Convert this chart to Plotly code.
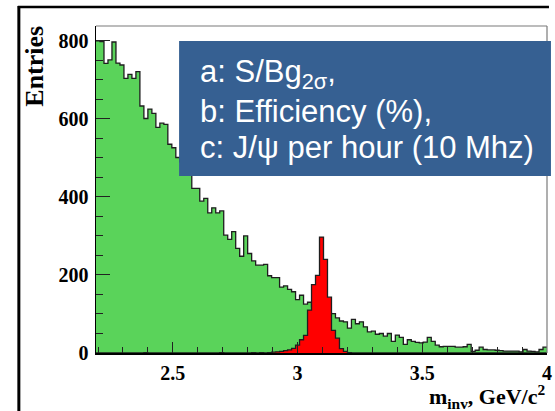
import numpy as np
import plotly.graph_objects as go

# ---------------- data ----------------
bin_lo = 2.192
bin_width = 0.016

background = [800, 798, 742, 751, 797, 743, 738, 704, 714, 704,
              721, 633, 601, 625, 614, 578, 589, 586, 535, 526,
              501, 490, 472, 460, 422, 422, 389, 396, 359, 372,
              359, 364, 302, 291, 311, 268, 248, 300, 255, 236,
              225, 225, 227, 198, 193, 193, 169, 172, 163, 157,
              137, 148, 125, 130, 118, 112, 108, 105, 102, 101,
              90, 82, 80, 64, 86, 75, 80, 67, 54, 56,
              48, 50, 43, 50, 30, 46, 40, 22, 34, 30,
              27, 26, 28, 40, 30, 20, 16, 17, 17, 17,
              15, 15, 16, 22, 4, 7, 15, 9, 8, 8,
              7, 6, 5, 5, 5, 5, 3, 9, 5, 4,
              3, 9, 15]

signal = [0, 0, 0, 0, 0, 0, 0, 0, 0, 0,
          0, 0, 1, 0, 0, 0, 0, 0, 0, 0,
          0, 0, 0, 0, 0, 0, 0, 0, 0, 0,
          0, 1, 0, 0, 0, 0, 0, 0, 0, 1,
          0, 1, 0, 1, 2, 3, 4, 6, 8, 12,
          20, 34, 45, 110, 175, 199, 297, 240, 143, 58,
          38, 11, 4, 1, 0, 0, 0, 0, 0, 0,
          0, 0, 0, 0, 0, 0, 0, 0, 0, 0,
          0, 0, 0, 0, 0, 0, 0, 0, 0, 0,
          0, 0, 0, 0, 0, 0, 0, 0, 0, 0,
          0, 0, 0, 0, 0, 0, 0, 0, 0, 0,
          0, 0, 0]

x_tickvals = [2.5, 3.0, 3.5, 4.0]
x_ticktext = ["2.5", "3", "3.5", "4"]
y_tickvals = [0, 200, 400, 600, 800]
y_ticktext = ["0", "200", "400", "600", "800"]

box_lines = ["a: S/Bg<sub>2σ</sub>,", "b: Efficiency (%),", "c: J/ψ per hour (10 Mhz)"]
y_title = "Entries"
x_title = "m<sub>inv</sub>, GeV/c<sup>2</sup>"

# ---------------- geometry ----------------
W_FIG, H_FIG = 555, 411
ML, MR, MT, MB = 96, 3, 26, 58
PW = W_FIG - ML - MR
PH = H_FIG - MT - MB


def px(x):
    return (x - ML) / PW


def py(y):
    return (H_FIG - MB - y) / PH


n = len(background)
edges = bin_lo + bin_width * np.arange(n + 1)


def step_xy(vals):
    xs = list(edges)
    ys = list(vals) + [vals[-1]]
    return xs, ys


GREEN = "#5AD35A"
RED = "#FF0000"
OUT = "#1e1e1e"

fig = go.Figure()
gx, gy = step_xy(background)
fig.add_trace(go.Scatter(x=gx, y=gy, mode="lines", line=dict(shape="hv", color=OUT, width=1.3),
                         fill="tozeroy", fillcolor=GREEN, hoverinfo="skip"))
rx, ry = step_xy(signal)
fig.add_trace(go.Scatter(x=rx, y=ry, mode="lines", line=dict(shape="hv", color=OUT, width=1.3),
                         fill="tozeroy", fillcolor=RED, hoverinfo="skip"))

tickfont = dict(family="Liberation Serif", size=20, color="black", weight="bold")

fig.update_layout(
    width=W_FIG, height=H_FIG,
    margin=dict(l=ML, r=MR, t=MT, b=MB, pad=0),
    paper_bgcolor="white", plot_bgcolor="white",
    showlegend=False,
    xaxis=dict(range=[edges[0], edges[-1]], showgrid=False, zeroline=False,
               showline=True, linecolor="black", linewidth=1.5,
               ticks="inside", ticklen=11, tickwidth=1, tickcolor="#222",
               tickmode="array", tickvals=x_tickvals, ticktext=x_ticktext,
               minor=dict(ticks="inside", ticklen=6, dtick=0.1, tick0=0, tickcolor="#222", tickwidth=1),
               tickfont=tickfont, ticklabeloverflow="allow", ticklabelstandoff=1),
    yaxis=dict(range=[0, 838], showgrid=False, zeroline=False,
               showline=True, linecolor="black", linewidth=1.5,
               ticks="inside", ticklen=14, tickwidth=1, tickcolor="#222",
               tickmode="array", tickvals=y_tickvals, ticktext=y_ticktext,
               minor=dict(ticks="inside", ticklen=7, dtick=50, tick0=0, tickcolor="#222", tickwidth=1),
               tickfont=tickfont, ticklabelstandoff=2),
)

shapes = []
shapes.append(dict(type="line", xref="paper", yref="paper", x0=0, x1=1, y0=1, y1=1,
                   line=dict(color="#7a7a7a", width=1.2)))
shapes.append(dict(type="line", xref="paper", yref="paper", x0=1, x1=1, y0=0, y1=1,
                   line=dict(color="#7a7a7a", width=1.2)))
shapes.append(dict(type="line", xref="paper", yref="paper", x0=px(18), x1=px(18), y0=py(6), y1=py(411),
                   line=dict(color="black", width=3)))
shapes.append(dict(type="line", xref="paper", yref="paper", x0=px(17), x1=px(554), y0=py(7), y1=py(7),
                   line=dict(color="black", width=2.5)))
shapes.append(dict(type="rect", xref="paper", yref="paper", x0=px(180), x1=px(556), y0=py(176), y1=py(41),
                   fillcolor="#366092", line=dict(width=0)))
fig.update_layout(shapes=shapes)

ann = []
for txt, yc in zip(box_lines, [74, 111, 147]):
    ann.append(dict(text=txt, xref="paper", yref="paper", x=px(199), y=py(yc), xanchor="left", yanchor="middle",
                    showarrow=False, font=dict(family="Liberation Sans", size=31, color="white")))
ann.append(dict(text=y_title, xref="paper", yref="paper", x=px(33), y=py(66), xanchor="center", yanchor="middle",
                textangle=-90, showarrow=False,
                font=dict(family="Liberation Serif", size=26, color="black", weight="bold")))
ann.append(dict(text=x_title, xref="paper", yref="paper", x=px(553), y=py(396), xanchor="right", yanchor="middle",
                showarrow=False, font=dict(family="Liberation Serif", size=22, color="black", weight="bold")))
fig.update_layout(annotations=ann)

fig.write_html("out.html", config={"displayModeBar": False, "staticPlot": True},
               post_script="document.body.style.margin='0';document.body.style.padding='0';"
                           "document.documentElement.style.overflow='hidden';")
